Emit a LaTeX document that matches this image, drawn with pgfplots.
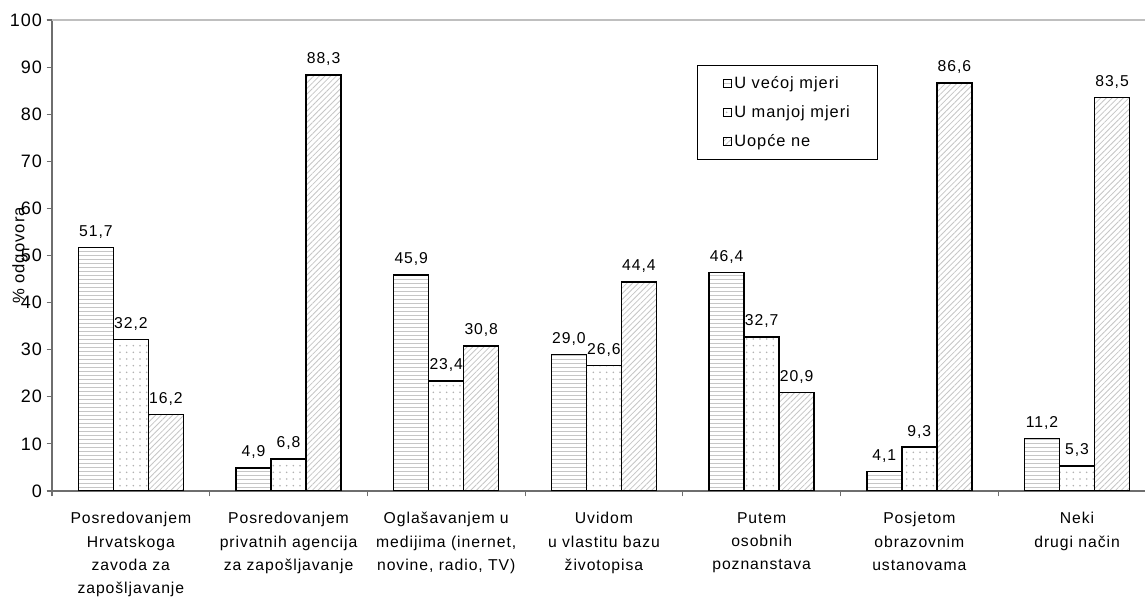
\documentclass[border=0pt]{standalone}
\usepackage{fontspec}
\setmainfont{Liberation Sans}[LetterSpace=6]
\usepackage{pgfplots}
\pgfplotsset{compat=1.18}
\usetikzlibrary{patterns,patterns.meta}

\definecolor{axisgray}{RGB}{110,110,110}

\begin{document}
\begin{tikzpicture}
\begin{axis}[
    x=118.275pt, y=3.5325pt,
    xmin=-0.5, xmax=6.43,
    ymin=0, ymax=100,
    ybar=0pt, bar width=26.25pt,
    axis x line*=bottom, axis y line*=left,
    axis line style={draw=axisgray, line width=0.9pt},
    tick style={draw=axisgray, line width=0.8pt},
    tick align=outside,
    major tick length=4pt, minor tick length=4pt,
    ytick={0,10,...,100},
    extra y ticks={100}, extra y tick labels={},
    extra y tick style={grid=major, major grid style={draw=gray!50, line width=0.8pt}},
    xtick={0,...,6},
    major x tick style={draw=none},
    minor xtick={-0.5,0.5,...,5.5},
    xticklabels={
        {Posredovanjem\\Hrvatskoga\\zavoda za\\zapošljavanje},
        {Posredovanjem\\privatnih agencija\\za zapošljavanje},
        {Oglašavanjem u\\medijima (inernet,\\novine, radio, TV)},
        {Uvidom\\u vlastitu bazu\\životopisa},
        {Putem\\osobnih\\poznanstava},
        {Posjetom\\obrazovnim\\ustanovama},
        {Neki\\drugi način}},
    xticklabel style={font=\fontsize{11.8}{17.5}\selectfont, align=center, yshift=-8.5pt},
    yticklabel style={font=\fontsize{13.5}{16}\selectfont},
    /pgf/number format/assume math mode=true,
    ylabel={\% odgovora},
    every axis y label/.style={at={(axis description cs:-0.0293,0.5)}, rotate=90, anchor=center, font=\fontsize{12.5}{14}\selectfont},
    nodes near coords={\pgfmathprintnumber[fixed,fixed zerofill,precision=1,use comma,assume math mode=true]{\pgfplotspointmeta}},
    every node near coord/.append style={font=\fontsize{11.8}{13}\selectfont, anchor=south, yshift=3pt},
    legend style={at={(axis description cs:0.590,0.904)}, anchor=north west,
        draw=black, line width=0.6pt, font=\fontsize{12.3}{14}\selectfont,
        inner xsep=19pt, inner ysep=6pt, row sep=7.5pt},
    legend cell align=left,
    legend image code/.code={\draw[#1, line width=0.8pt] (2pt,-3pt) rectangle (8pt,3pt);},
]
\addplot[draw=black, line width=1.1pt, fill=white,
    postaction={pattern={Lines[angle=0,distance=3pt,line width=0.6pt]}, pattern color=gray!45}]
    coordinates {(0,51.7) (1,4.9) (2,45.9) (3,29.0) (4,46.4) (5,4.1) (6,11.2)};
\addplot[draw=black, line width=1.1pt, fill=white,
    postaction={pattern={Dots[distance=5pt,radius=0.65pt]}, pattern color=gray!60}]
    coordinates {(0,32.2) (1,6.8) (2,23.4) (3,26.6) (4,32.7) (5,9.3) (6,5.3)};
\addplot[draw=black, line width=1.1pt, fill=white,
    postaction={pattern={Lines[angle=45,distance=3pt,line width=0.6pt]}, pattern color=gray!45}]
    coordinates {(0,16.2) (1,88.3) (2,30.8) (3,44.4) (4,20.9) (5,86.6) (6,83.5)};
\legend{U većoj mjeri, U manjoj mjeri, Uopće ne}
\coordinate (o) at (axis cs:-0.5,0);
\end{axis}
\pgfresetboundingbox
\path[use as bounding box] (o) ++(-39pt,-81pt) rectangle ++(858.75pt,449.25pt);
\end{tikzpicture}
\end{document}
